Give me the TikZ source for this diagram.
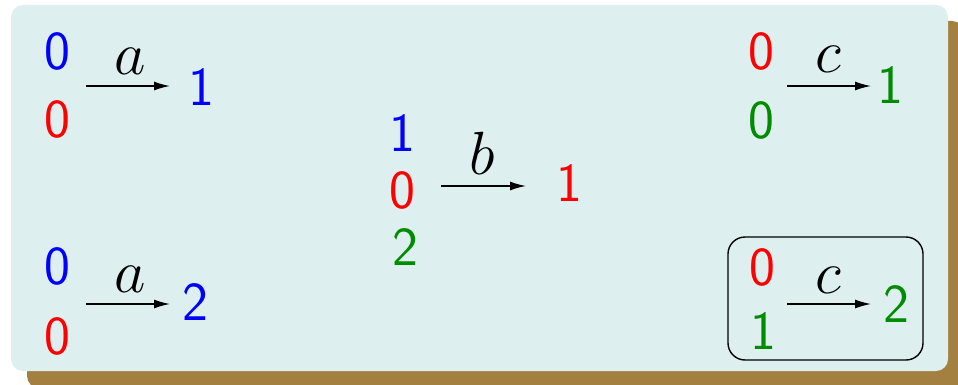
\RequirePackage{fix-cm}
\documentclass[tikz,border=0pt]{standalone}
\usetikzlibrary{arrows.meta}
\definecolor{bgcol}{RGB}{222,239,239}
\definecolor{shcol}{RGB}{164,128,64}
\definecolor{dgreen}{RGB}{0,140,0}
\tikzset{
  dig/.style={inner sep=0pt, font=\sffamily\fontsize{55}{60}\selectfont},
  lab/.style={inner sep=0pt, anchor=base, font=\fontsize{61}{66}\selectfont},
  trans/.style={line width=1.4pt, -{Latex[length=16pt,width=9pt]}},
}
\begin{document}
\begin{tikzpicture}[x=1pt,y=-1pt]
\useasboundingbox (0,0) rectangle (958,385);
\begin{scope}
\clip (0,0) rectangle (958,385);
\fill[shcol, rounded corners=12pt] (27,21) rectangle (964,388);
\end{scope}
\fill[bgcol, rounded corners=12pt] (11,5) rectangle (948,371);
% top-left
\node[dig, blue] (tl0) at (57,51) {0};
\node[dig, red] (tl1) at (57,119) {0};
\node[dig, blue] (tlr) at (201,87) {1};
\coordinate (tla) at (86,86);
\coordinate (tlb) at (170,86);
\draw[trans] (tla) -- (tlb);
\node[lab] (tll) at (130,75) {$a$};
% bottom-left
\node[dig, blue] (bl0) at (57,266) {0};
\node[dig, red] (bl1) at (57,336) {0};
\node[dig, blue] (blr) at (195,302) {2};
\coordinate (bla) at (86,304);
\coordinate (blb) at (170,304);
\draw[trans] (bla) -- (blb);
\node[lab] (bll) at (130,292) {$a$};
% middle
\node[dig, blue] (m0) at (402,133) {1};
\node[dig, red] (m1) at (402,190) {0};
\node[dig, dgreen] (m2) at (405,247) {2};
\node[dig, red] (mr) at (569,183) {1};
\coordinate (ma) at (441,186);
\coordinate (mb) at (526,186);
\draw[trans] (ma) -- (mb);
\node[lab] (ml) at (482,175) {$b$};
% top-right
\node[dig, red] (tr0) at (761,51) {0};
\node[dig, dgreen] (tr1) at (761,120) {0};
\node[dig, dgreen] (trr) at (890,85) {1};
\coordinate (tra) at (787,86);
\coordinate (trb) at (871,86);
\draw[trans] (tra) -- (trb);
\node[lab] (trl) at (828,73) {$c$};
% bottom-right
\node[dig, red] (br0) at (762,267) {0};
\node[dig, dgreen] (br1) at (763,331) {1};
\node[dig, dgreen] (brr) at (896,304) {2};
\coordinate (bra) at (787,304);
\coordinate (brb) at (871,304);
\draw[trans] (bra) -- (brb);
\node[lab] (brl) at (828,293) {$c$};
\node[draw, line width=1.4pt, rounded corners=17pt, inner sep=0pt, minimum width=195pt, minimum height=123pt] (frame) at (825.5,298.5) {};
\end{tikzpicture}
\end{document}
